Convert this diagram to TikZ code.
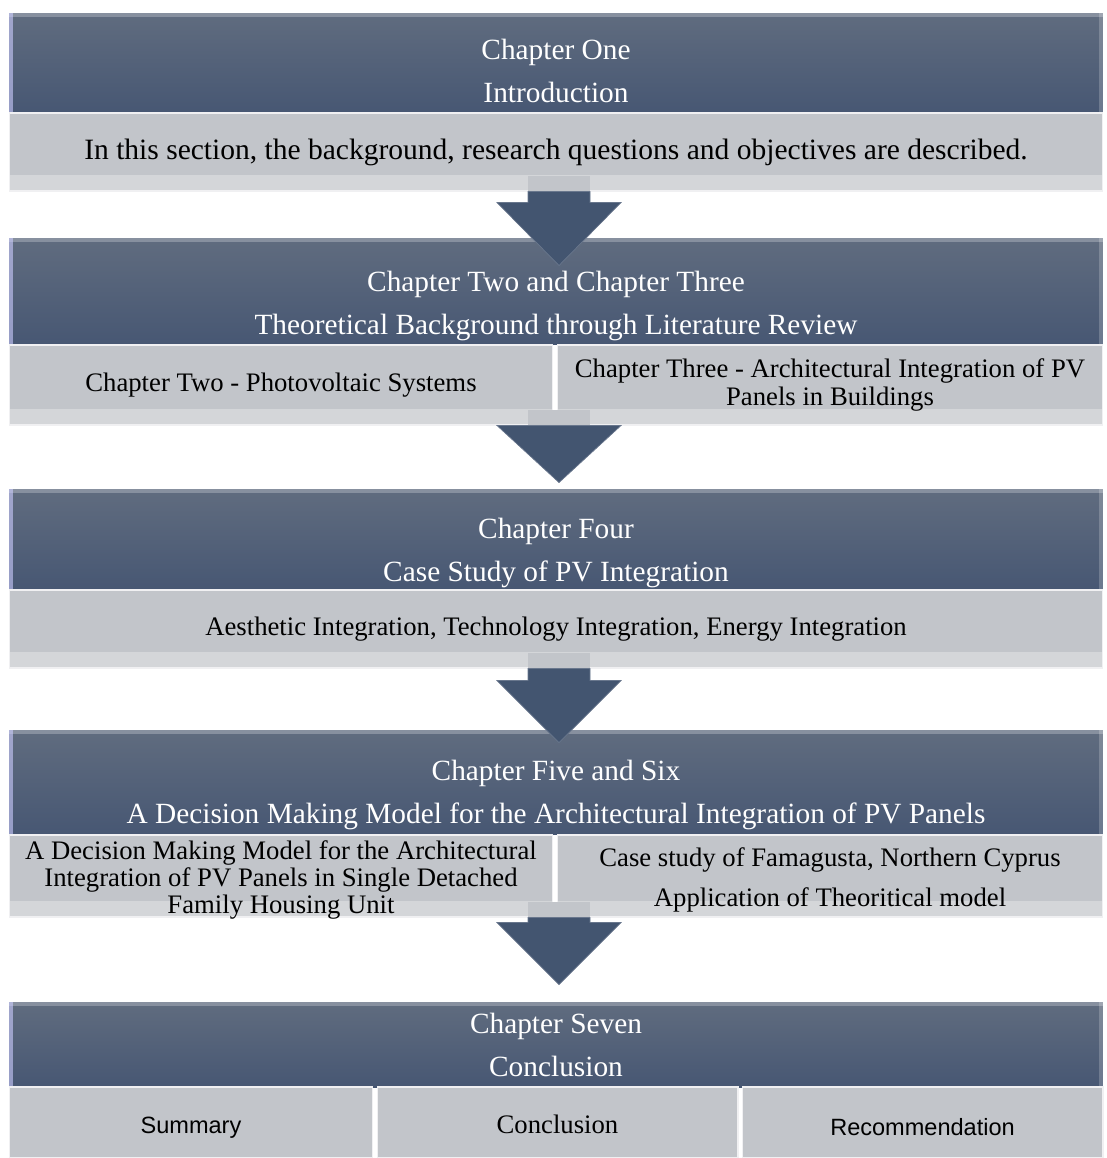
\documentclass[tikz,border=0pt]{standalone}
\usepackage{fontspec}
\setmainfont{Liberation Serif}
\newfontfamily\arialfont{Liberation Sans}
\usetikzlibrary{calc}

\definecolor{hdtop}{HTML}{606C7F}
\definecolor{hdbot}{HTML}{475773}
\definecolor{barcol}{HTML}{C2C5CA}
\definecolor{barlow}{HTML}{D4D6D9}
\definecolor{arrcol}{HTML}{435570}

\tikzset{
  hdr/.style={rectangle, top color=hdtop, bottom color=hdbot, minimum width=21.88cm, inner sep=0pt,
    path picture={
      \fill[white,opacity=.25] (path picture bounding box.north west) rectangle ([yshift=-2pt]path picture bounding box.north east);
      \fill[white!80!blue,opacity=.6] (path picture bounding box.north west) rectangle ([xshift=2pt]path picture bounding box.south west);
      \fill[white,opacity=.2] ([xshift=-2pt]path picture bounding box.north east) rectangle (path picture bounding box.south east);}},
  hdtext/.style={text=white, align=center, font=\fontsize{16.7}{24.5}\selectfont, inner sep=0pt},
  barplain/.style={rectangle, fill=barcol, draw=white!75!barcol, line width=0.6pt, inner sep=0pt,
    align=center, font=\fontsize{15.2}{15.6}\selectfont},
  bar/.style={barplain,
    path picture={\fill[barlow] (path picture bounding box.south west) rectangle ([yshift=0.32cm]path picture bounding box.south east);}},
  bartext/.style={align=center, inner sep=0pt, font=\fontsize{15.2}{15.6}\selectfont},
  chevron/.style={fill=arrcol, draw=arrcol!80!white, line width=0.4pt}
}

% down arrow below a bar: start, gap, head height
\newcommand{\chapterarrow}[3]{%
  \fill[barcol] ($(#1)+(-31,-16)$) rectangle ($(#1)+(31,0)$);
  \filldraw[chevron] ($(#1)+(-31,0)$) -- ($(#1)+(-31,#2)$) -- ($(#1)+(-62,#2)$)
    -- ($(#1)+(0,#2+#3)$) -- ($(#1)+(62,#2)$) -- ($(#1)+(31,#2)$) -- ($(#1)+(31,0)$) -- cycle;}

\begin{document}
\begin{tikzpicture}[x=0.02cm, y=-0.02cm]
\useasboundingbox (0,0) rectangle (1106,1158);

% chapter one
\node[hdr, minimum height=2cm] (hd1) at (556,63) {};
\node[hdtext] (hd1t) at ($(hd1.south)+(0,-42)$) {Chapter One\\Introduction};
\node[bar, minimum width=21.88cm, minimum height=1.56cm, font=\fontsize{16.8}{18}\selectfont] (bar1) at (556,152)
  {In this section, the background, research questions and objectives are described.};

% chapters two and three
\node[hdr, minimum height=2.14cm] (hd2) at (556,291.5) {};
\node[hdtext] (hd2t) at ($(hd2.south)+(0,-39)$) {Chapter Two and Chapter Three\\Theoretical Background through Literature Review};
\node[bar, minimum width=10.88cm, minimum height=1.6cm] (bar2l) at (281,385)
  {Chapter Two - Photovoltaic Systems};
\node[bar, minimum width=10.92cm, minimum height=1.6cm] (bar2r) at (830,385)
  {Chapter Three - Architectural Integration of PV\\[0.3pt]Panels in Buildings};

% chapter four
\node[hdr, minimum height=2.02cm] (hd3) at (556,539.5) {};
\node[hdtext] (hd3t) at ($(hd3.south)+(0,-37)$) {Chapter Four\\Case Study of PV Integration};
\node[bar, minimum width=21.88cm, minimum height=1.56cm] (bar3) at (556,629)
  {Aesthetic Integration, Technology Integration, Energy Integration};

% chapters five and six
\node[hdr, minimum height=2.1cm] (hd4) at (556,782.5) {};
\node[hdtext] (hd4t) at ($(hd4.south)+(0,-40)$) {Chapter Five and Six\\A Decision Making Model for the Architectural Integration of PV Panels};
\node[bar, minimum width=10.88cm, minimum height=1.64cm] (bar4l) at (281,876) {};
\node[bartext] (bar4lt) at ($(bar4l)+(0,4)$)
  {A Decision Making Model for the Architectural\\Integration of PV Panels in Single Detached\\Family Housing Unit};
\node[bar, minimum width=10.92cm, minimum height=1.64cm] (bar4r) at (830,876) {};
\node[bartext] (bar4rt) at ($(bar4r)+(0,4)$)
  {Case study of Famagusta, Northern Cyprus\\[7.2pt]Application of Theoritical model};

% chapter seven
\node[hdr, minimum height=1.7cm] (hd5) at (556,1044.5) {};
\node[hdtext] (hd5t) at ($(hd5.south)+(0,-42)$) {Chapter Seven\\Conclusion};
\node[barplain, minimum width=7.28cm, minimum height=1.42cm] (bar5a) at (191,1122.5) {};
\node[barplain, minimum width=7.22cm, minimum height=1.42cm] (bar5b) at (557.5,1122.5) {};
\node[barplain, minimum width=7.22cm, minimum height=1.42cm] (bar5c) at (922.5,1122.5) {};
\node[bartext, font=\arialfont\fontsize{13.4}{16}\selectfont] (bar5at) at ($(bar5a)+(0,5)$) {Summary};
\node[bartext] (bar5bt) at ($(bar5b)+(0,2)$) {Conclusion};
\node[bartext, font=\arialfont\fontsize{13.4}{16}\selectfont] (bar5ct) at ($(bar5c)+(0,5)$) {Recommendation};

% arrows between the chapters
\coordinate (a1) at ($(bar1.south)+(3,0)$);
\coordinate (a2) at ($(hd2.south |- bar2l.south)+(3,0)$);
\coordinate (a3) at ($(bar3.south)+(3,0)$);
\coordinate (a4) at ($(hd4.south |- bar4l.south)+(3,0)$);
\chapterarrow{a1}{11}{63}
\chapterarrow{a2}{0}{57}
\chapterarrow{a3}{12}{62}
\chapterarrow{a4}{5}{62}
\end{tikzpicture}
\end{document}
